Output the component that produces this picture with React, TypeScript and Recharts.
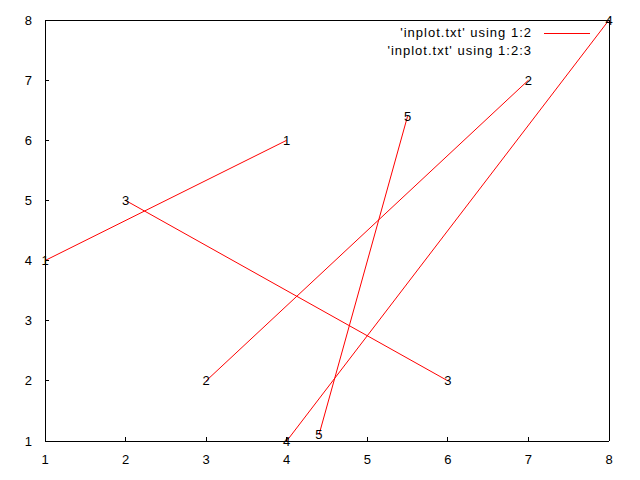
import React from 'react';
import { ComposedChart, Line, XAxis, YAxis } from 'recharts';

// each segment is two rows of inplot.txt: x, y and the label in column 3
const segmentLabels = ['1', '2', '3', '4', '5'];
const segmentX = [
  [1, 4],
  [3, 7],
  [2, 6],
  [4, 8],
  [4.4, 5.5],
];
const segmentY = [
  [4, 6],
  [2, 7],
  [5, 2],
  [1, 8],
  [1.1, 6.4],
];
const axisTicks = [1, 2, 3, 4, 5, 6, 7, 8];
const legendNames = ["'inplot.txt' using 1:2", "'inplot.txt' using 1:2:3"];

const FONT = '"Liberation Sans", Arial, sans-serif';
const FS = 13;
const TICK = 4;

const segments = segmentLabels.map((label, i) =>
  segmentX[i].map((x, j) => ({ x, y: segmentY[i][j], label }))
);

const BottomTick = (props: any) => {
  const { x, y, payload } = props;
  return (
    <g>
      <line x1={x} y1={y} x2={x} y2={y - TICK} stroke="#000" shapeRendering="crispEdges" />
      <text x={x} y={y + 18} textAnchor="middle" dominantBaseline="central" fontSize={FS} fontFamily={FONT} fill="#000">
        {payload.value}
      </text>
    </g>
  );
};

const TopTick = (props: any) => {
  const { x, y } = props;
  return <line x1={x} y1={y} x2={x} y2={y + TICK} stroke="#000" shapeRendering="crispEdges" />;
};

const LeftTick = (props: any) => {
  const { x, y, payload } = props;
  return (
    <g>
      <line x1={x} y1={y} x2={x + TICK} y2={y} stroke="#000" shapeRendering="crispEdges" />
      <text x={x - 13} y={y} textAnchor="end" dominantBaseline="central" fontSize={FS} fontFamily={FONT} fill="#000">
        {payload.value}
      </text>
    </g>
  );
};

const RightTick = (props: any) => {
  const { x, y } = props;
  return <line x1={x} y1={y} x2={x - TICK} y2={y} stroke="#000" shapeRendering="crispEdges" />;
};

const PointLabel = (props: any) => {
  const { cx, cy, payload, index } = props;
  if (cx == null || cy == null) return null;
  return (
    <text key={index} x={cx} y={cy} textAnchor="middle" dominantBaseline="central" fontSize={FS} fontFamily={FONT} fill="#000">
      {payload.label}
    </text>
  );
};

const axisLine = { stroke: '#000', shapeRendering: 'crispEdges' };

export default function App() {
  return (
    <div style={{ position: 'absolute', left: 0, top: 0, width: 640, height: 480, background: '#fff' }}>
      <ComposedChart width={640} height={480} margin={{ top: 19, right: 30, bottom: 0, left: 0 }}>
        <XAxis
          dataKey="x"
          type="number"
          domain={[1, 8]}
          ticks={axisTicks}
          height={39}
          tickSize={0}
          tickMargin={0}
          tickLine={false}
          axisLine={axisLine}
          tick={<BottomTick />}
        />
        <XAxis
          xAxisId="top"
          orientation="top"
          type="number"
          domain={[1, 8]}
          ticks={axisTicks}
          height={1}
          tickSize={0}
          tickMargin={0}
          tickLine={false}
          axisLine={axisLine}
          tick={<TopTick />}
        />
        <YAxis
          type="number"
          domain={[1, 8]}
          ticks={axisTicks}
          width={45}
          tickSize={0}
          tickMargin={0}
          tickLine={false}
          axisLine={axisLine}
          tick={<LeftTick />}
        />
        <YAxis
          yAxisId="right"
          orientation="right"
          type="number"
          domain={[1, 8]}
          ticks={axisTicks}
          width={1}
          tickSize={0}
          tickMargin={0}
          tickLine={false}
          axisLine={axisLine}
          tick={<RightTick />}
        />
        {segments.map((seg, i) => (
          <Line
            key={i}
            data={seg}
            dataKey="y"
            type="linear"
            stroke="#ff0000"
            strokeWidth={1}
            dot={<PointLabel />}
            activeDot={false}
            isAnimationActive={false}
          />
        ))}
      </ComposedChart>
      <div
        style={{
          position: 'absolute',
          top: 24,
          right: 108,
          textAlign: 'right',
          fontFamily: FONT,
          fontSize: FS,
          letterSpacing: 1,
          lineHeight: '18px',
          color: '#000',
          whiteSpace: 'nowrap',
        }}
      >
        {legendNames.map((n) => (
          <div key={n}>{n}</div>
        ))}
      </div>
      <div style={{ position: 'absolute', left: 544, top: 33, width: 46, height: 1, background: '#ff0000' }} />
    </div>
  );
}
